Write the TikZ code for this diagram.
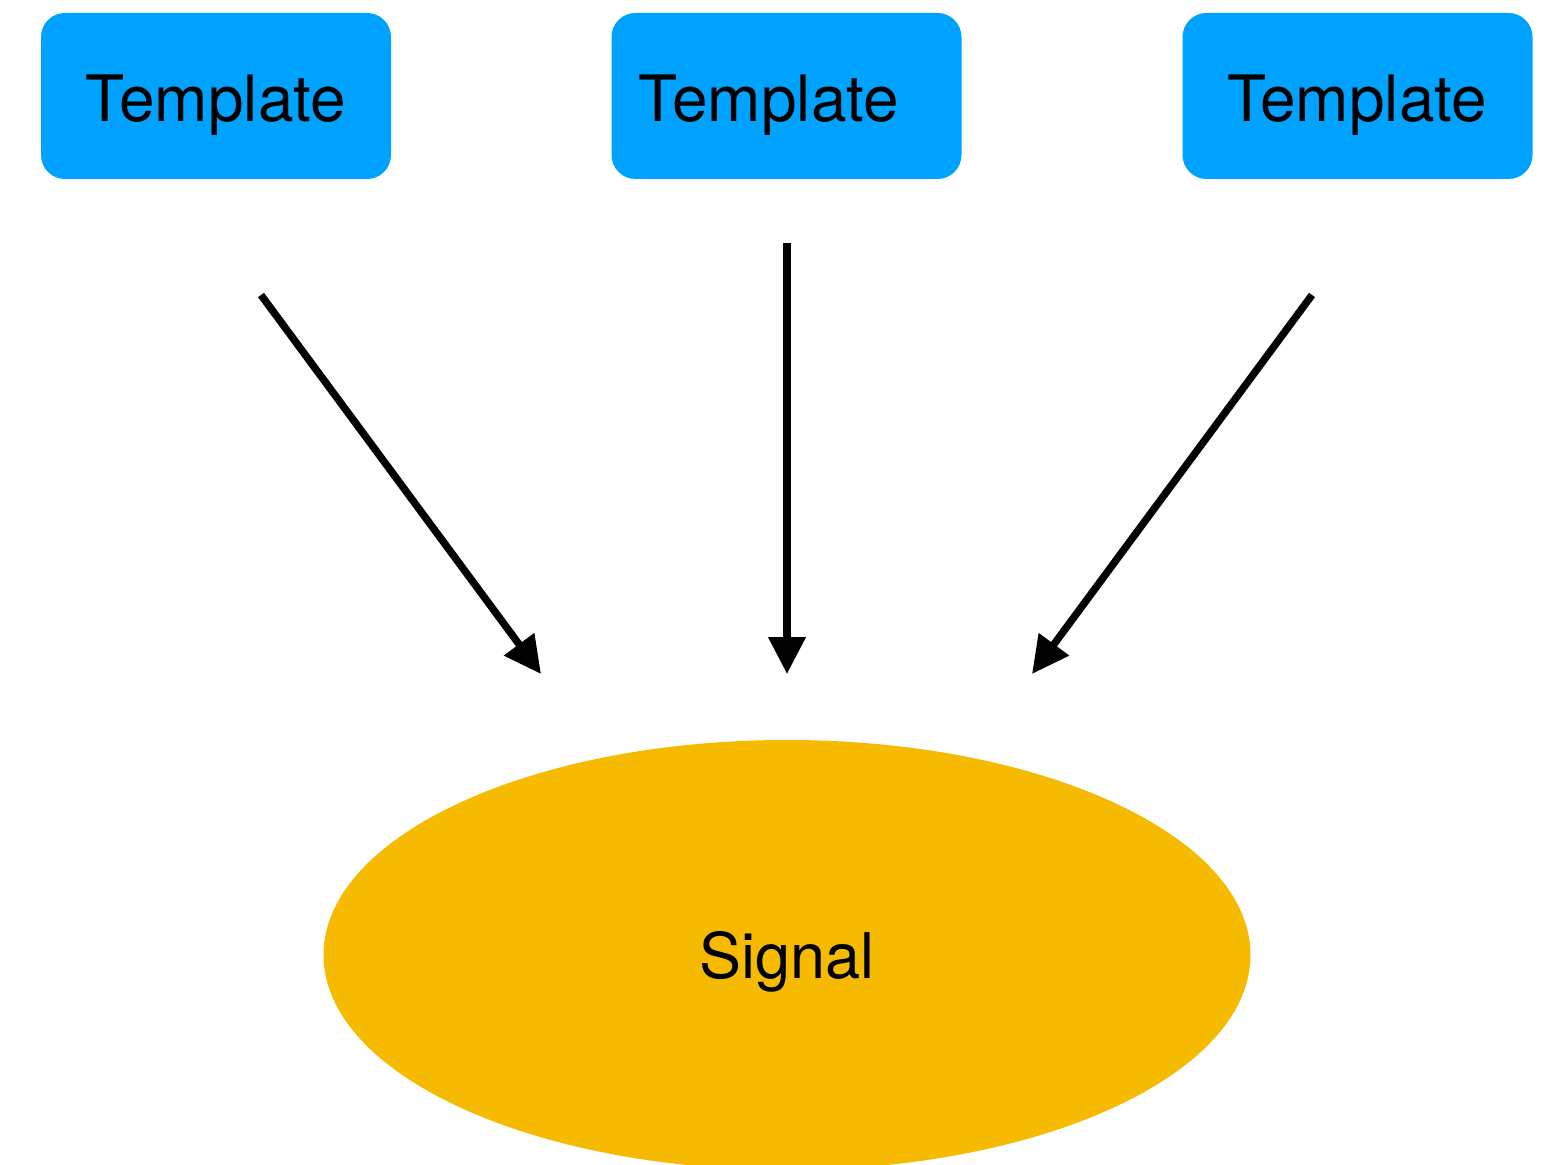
\documentclass[tikz,border=0pt]{standalone}
\usepackage{fontspec}
\setmainfont{TeX Gyre Heros}
\usetikzlibrary{shapes.geometric,arrows.meta}
\definecolor{tplblue}{RGB}{0,162,255}
\definecolor{sigyellow}{RGB}{246,187,0}
\tikzset{
  template/.style={draw=none, fill=tplblue, rounded corners=12pt,
    minimum width=175pt, minimum height=83pt, inner sep=0pt},
  lbl/.style={font=\fontsize{32}{38}\selectfont, inner sep=0pt},
  signal/.style={ellipse, draw=none, fill=sigyellow, minimum width=463.5pt,
    minimum height=215pt, inner sep=0pt},
  feed/.style={line width=3.7pt, -{Triangle[length=18.5pt,width=18pt]}}
}
\begin{document}
\begin{tikzpicture}[x=0.5pt,y=-0.5pt]
  \useasboundingbox (0,0) rectangle (1551,1165);
  \begin{scope}
    \clip (0,0) rectangle (1551,1165);
    \node[signal] (sig) at (787,955) {};
  \end{scope}
  \node[lbl, font=\fontsize{31.5}{37}\selectfont] (l4) at (787,962) {Signal};

  \node[template] (t1) at (216,96) {};
  \node[template] (t2) at (786.5,96) {};
  \node[template] (t3) at (1357.5,96) {};
  \node[lbl] (l1) at (216,105) {Template};
  \node[lbl] (l2) at (769,105) {Template};
  \node[lbl] (l3) at (1357,105) {Template};

  \coordinate (s1) at (261,295);
  \coordinate (e1) at (541,674);
  \coordinate (s2) at (787,243);
  \coordinate (e2) at (787,674);
  \coordinate (s3) at (1312,295);
  \coordinate (e3) at (1032,674);
  \draw[feed] (s1) -- (e1);
  \draw[feed] (s2) -- (e2);
  \draw[feed] (s3) -- (e3);
\end{tikzpicture}
\end{document}
